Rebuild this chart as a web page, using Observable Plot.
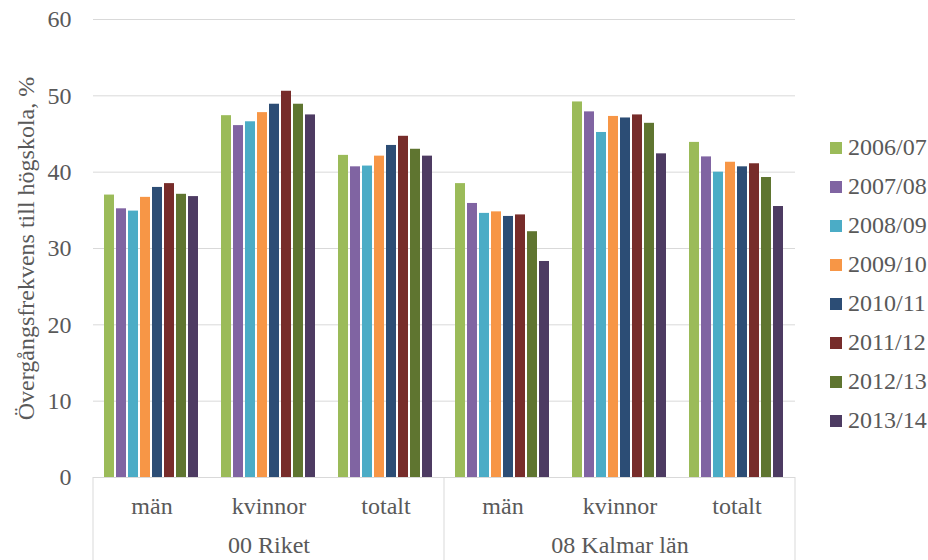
<!DOCTYPE html>
<html>
<head>
<meta charset="utf-8">
<script src="https://cdn.jsdelivr.net/npm/d3@7"></script>
<script src="https://cdn.jsdelivr.net/npm/@observablehq/plot@0.6"></script>
<style>
  body { margin: 0; background: #fff; }
  #wrap { position: relative; width: 928px; height: 560px; overflow: hidden; background: #fff; }
  #wrap, #wrap svg, #wrap svg text, #wrap div { font-family: "Liberation Serif", "Times New Roman", serif !important; }
  #legend { position: absolute; left: 830px; top: 128px; }
  .lg-swatch { height: 39px; display: flex; align-items: center; padding: 0 !important; margin: 0 !important; }
  .lg-swatch > svg { margin-right: 6px !important; }
  .lg-label { line-height: 1; }
</style>
</head>
<body>
<div id="wrap"><div id="legend"></div></div>
<script>
// ---- data ----
const years = ["2006/07", "2007/08", "2008/09", "2009/10", "2010/11", "2011/12", "2012/13", "2013/14"];
const regions = ["00 Riket", "08 Kalmar län"];
const groups = ["män", "kvinnor", "totalt"];
const riketMan      = [37.0, 35.2, 34.9, 36.7, 38.0, 38.5, 37.1, 36.8];
const riketKvinnor  = [47.4, 46.1, 46.6, 47.8, 48.9, 50.6, 48.9, 47.5];
const riketTotalt   = [42.2, 40.7, 40.8, 42.1, 43.5, 44.7, 43.0, 42.1];
const kalmarMan     = [38.5, 35.9, 34.6, 34.8, 34.2, 34.4, 32.2, 28.3];
const kalmarKvinnor = [49.2, 47.9, 45.2, 47.3, 47.1, 47.5, 46.4, 42.4];
const kalmarTotalt  = [43.9, 42.0, 40.0, 41.3, 40.7, 41.1, 39.3, 35.5];
const yTicks = [0, 10, 20, 30, 40, 50, 60];
const yLabel = "Övergångsfrekvens till högskola, %";
const colors = ["#9BBB59", "#8064A2", "#4BACC6", "#F79646", "#2C4D75", "#772C2A", "#5F7530", "#4D3B62"];

const series = [[riketMan, riketKvinnor, riketTotalt], [kalmarMan, kalmarKvinnor, kalmarTotalt]];
const keys = regions.flatMap(r => groups.map(g => r + "|" + g));
const rows = [];
regions.forEach((r, ri) => groups.forEach((g, gi) => years.forEach((y, yi) =>
  rows.push({key: r + "|" + g, year: y, value: series[ri][gi][yi]}))));
// region label sits under the middle sub-category of each region
const regionLabels = regions.map(r => ({key: r + "|" + groups[1], label: r}));

const font = "Liberation Serif";
const chart = Plot.plot({
  width: 928,
  height: 560,
  marginTop: 19,
  marginBottom: 83,
  marginLeft: 90,
  marginRight: 131,
  style: {fontFamily: font, fontSize: "24px", color: "#595959", background: "#fff"},
  fx: {domain: keys, padding: 0, axis: "bottom", tickFormat: k => k.split("|")[1], tickSize: 0, tickPadding: 19, label: null},
  x: {domain: years, paddingInner: 0.15, paddingOuter: 0.9, axis: null},
  y: {domain: [0, 60], ticks: yTicks, tickSize: 0, tickPadding: 22, label: yLabel, labelAnchor: "center", labelOffset: 77, labelArrow: "none"},
  color: {domain: years, range: colors},
  marks: [
    Plot.gridY(yTicks, {stroke: "#d9d9d9", strokeOpacity: 1, strokeWidth: 1}),
    Plot.barY(rows, {fx: "key", x: "year", y: "value", fill: "year"}),
    Plot.ruleY([0], {stroke: "#d9d9d9", strokeWidth: 1}),
    Plot.text(regionLabels, {fx: "key", text: "label", frameAnchor: "bottom", dy: 68, lineAnchor: "middle", fill: "#595959"})
  ]
});

const wrap = document.getElementById("wrap");
wrap.insertBefore(chart, wrap.firstChild);

// separators of the two-level category axis, placed through the fx / y scales
const fxScale = chart.scale("fx");
const yScale = chart.scale("y");
const fxApply = fxScale.apply ? fxScale.apply : Plot.scale({fx: fxScale}).apply;
const yApply = yScale.apply ? yScale.apply : Plot.scale({y: yScale}).apply;
const bw = fxScale.bandwidth;
const edges = [fxApply(keys[0]), fxApply(keys[groups.length]), fxApply(keys[keys.length - 1]) + bw];
const y0 = yApply(0);
d3.select(chart).append("g")
  .selectAll("line").data(edges).join("line")
  .attr("x1", d => d).attr("x2", d => d)
  .attr("y1", y0).attr("y2", 560)
  .attr("stroke", "#d9d9d9").attr("stroke-width", 1);

// legend
const legend = Plot.legend({
  color: {type: "ordinal", domain: years, range: colors},
  legend: "swatches",
  columns: 1,
  swatchSize: 12,
  className: "lg",
  style: {fontFamily: font, fontSize: "24px", color: "#595959", background: "transparent"}
});
document.getElementById("legend").appendChild(legend);
</script>
</body>
</html>
